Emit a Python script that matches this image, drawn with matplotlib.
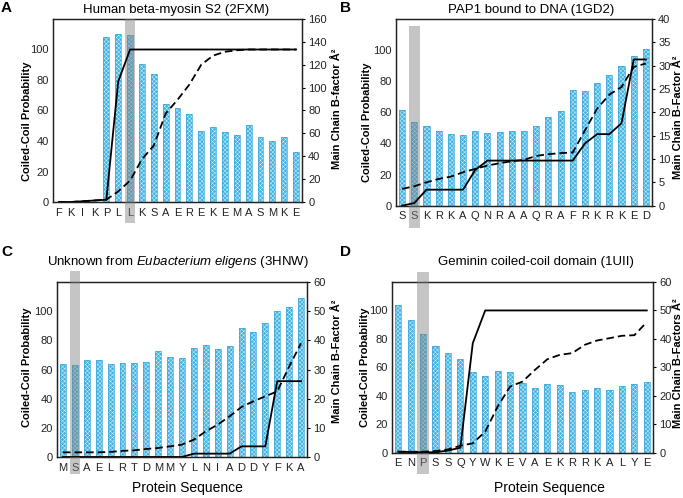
import numpy as np
import matplotlib
matplotlib.use('Agg')
import matplotlib.pyplot as plt
from matplotlib.transforms import blended_transform_factory
from matplotlib.patches import Rectangle

plt.rcParams['font.family'] = ['Liberation Sans', 'DejaVu Sans']
plt.rcParams['mathtext.fontset'] = 'custom'
plt.rcParams['mathtext.rm'] = 'Liberation Sans'
plt.rcParams['mathtext.it'] = 'Liberation Sans:italic'
plt.rcParams['hatch.linewidth'] = 0.35

# panel A - 2FXM
a_res = list("FKIKPLLKSAEREKEMASMKE")
a_bfac = [0, 0, 0, 0, 144, 147, 146, 121, 112, 86, 82, 77, 62, 66, 61, 59, 67, 57, 53, 57, 44]
a_solid = [0, 0, 0.5, 1, 1.5, 79, 100, 100, 100, 100, 100, 100, 100, 100, 100, 100, 100, 100, 100, 100, 100]
a_dashed = [0, 0, 0.5, 1, 1.5, 7, 14, 28, 37, 58, 67, 77, 90, 96, 98.5, 99.5, 100, 100, 100, 100, 100]

# panel B - 1GD2
b_res = list("SSKRKAQNRAAQRAFRKRKED")
b_bfac = [20.4, 17.9, 17.1, 15.9, 15.3, 15.1, 15.9, 15.6, 15.7, 15.9, 16.1, 17, 19, 20.2, 24.7, 24.5, 26.2, 28, 29.9, 32.1, 33.6]
b_solid = [0, 1.7, 10.3, 10.3, 10.3, 10.3, 23, 29, 29, 29, 29, 29, 29, 29, 29, 40, 46, 46, 53, 94, 94]
b_dashed = [10.8, 12.5, 15, 17.2, 18.7, 21.5, 23.7, 25.8, 27.3, 28.6, 29.5, 32, 33.1, 33.8, 34.2, 48.4, 62.4, 71.4, 76.3, 89.2, 91.4]

# panel C - 3HNW
c_res = list("MSAELRTDMMYLNIADDYFKA")
c_bfac = [32, 31.6, 33.4, 33.4, 31.8, 32.3, 32.3, 32.7, 36.5, 34.4, 34, 37.4, 38.4, 37, 38, 44.3, 42.8, 46, 50.2, 51.3, 54.5]
c_solid = [0, 0, 0, 0, 0, 0, 0, 0, 0, 0, 0, 2.3, 2.3, 2.3, 2.3, 7.3, 7.3, 7.3, 52, 52, 52]
c_dashed = [3.2, 3.2, 3.2, 3.2, 3.5, 4.2, 4.6, 5.5, 6.2, 7.3, 8.5, 11.9, 17.6, 22.2, 27.9, 34.3, 38.2, 41.6, 45, 62, 78]

# panel D - 1UII
d_res = list("ENPSSQYWKEVAEKRRKALYE")
d_bfac = [51.8, 46.5, 41.7, 37.5, 35.2, 32.9, 28.4, 27, 28.8, 28.5, 24.4, 22.8, 24, 23.7, 21.4, 21.9, 22.7, 22.2, 23.3, 24.2, 24.7]
d_solid = [0.7, 0.5, 0.3, 0.3, 1.5, 3.5, 77, 100, 100, 100, 100, 100, 100, 100, 100, 100, 100, 100, 100, 100, 100]
d_dashed = [0.7, 0.7, 0.7, 1.2, 2.3, 4.9, 6.6, 14.8, 32.4, 46.5, 50, 58.2, 65.7, 68.8, 70, 75.8, 78.9, 80.5, 82.2, 82.6, 91.8]

W, H = 683, 498
BAR = '#3fb2e3'
EDGE = '#38a6d8'

fig = plt.figure(figsize=(W / 100, H / 100), dpi=100)


def px_rect(l, t, r, b):
    return [l / W, 1 - b / H, (r - l) / W, (b - t) / H]


def panel(box, res, bfac, solid, dashed, rmax, rstep, hl, band):
    ax1 = fig.add_axes(px_rect(*box))
    ax2 = ax1.twinx()
    ax1.set_zorder(ax2.get_zorder() + 1)
    ax1.patch.set_visible(False)
    x = np.arange(len(res))
    ax2.bar(x, bfac, 0.5, color=BAR, edgecolor='#d8f0fa', hatch='xxxxxxxx', linewidth=0)
    ax2.bar(x, bfac, 0.5, fill=False, edgecolor=EDGE, linewidth=0.5)
    ax1.plot(x, solid, color='black', lw=1.3, zorder=5)
    ax1.plot(x, dashed, color='black', lw=1.3, ls='--', dashes=(4.2, 2.2), zorder=5)
    ax1.set_xlim(-0.5, len(res) - 0.5)
    ax1.set_ylim(0, 120)
    ax1.set_yticks(range(0, 101, 20))
    ax2.set_ylim(0, rmax)
    ax2.set_yticks(np.arange(0, rmax + 0.01, rstep))
    ax1.set_xticks(x)
    ax1.set_xticklabels(res)
    ax1.tick_params(axis='y', length=0, pad=3, labelsize=8, labelcolor='#222222')
    ax1.tick_params(axis='x', length=0, pad=4, labelsize=8, labelcolor='#222222')
    ax2.tick_params(axis='y', length=2.5, pad=2, labelsize=8, labelcolor='#222222')
    for ax in (ax1, ax2):
        for s in ax.spines.values():
            s.set_linewidth(0.9)
            s.set_color('#222222')
    trans = blended_transform_factory(ax1.transData, ax1.transAxes)
    ax1.add_patch(Rectangle((hl - 0.45, band[0]), 0.9, band[1] - band[0], transform=trans,
                            facecolor='gray', alpha=0.45, lw=0, clip_on=False, zorder=3))
    return ax1, ax2


panel((53, 19, 302, 202), a_res, a_bfac, a_solid, a_dashed, 160, 20, 6, (-0.113, 1.0))
panel((396, 19, 652, 205.7), b_res, b_bfac, b_solid, b_dashed, 40, 5, 1, (-0.119, 0.9625))
panel((57, 282, 307, 457), c_res, c_bfac, c_solid, c_dashed, 60, 10, 1, (-0.097, 1.063))
panel((392, 282, 653, 452.7), d_res, d_bfac, d_solid, d_dashed, 60, 10, 2, (-0.125, 1.06))


def ftext(x, y, s, **kw):
    fig.text(x / W, 1 - y / H, s, **kw)


# titles
ftext(176, 13, "Human beta-myosin S2 (2FXM)", ha='center', va='baseline', fontsize=9.5)
ftext(531, 13, "PAP1 bound to DNA (1GD2)", ha='center', va='baseline', fontsize=9.5)
ftext(178, 265, "Unknown from $\\it{Eubacterium\\ eligens}$ (3HNW)", ha='center', va='baseline', fontsize=9.5)
ftext(536, 265, "Geminin coiled-coil domain (1UII)", ha='center', va='baseline', fontsize=9.5)

# panel letters
for lx, ly, lt in [(1, 12, 'A'), (340, 12, 'B'), (1, 256, 'C'), (340, 256, 'D')]:
    ftext(lx, ly, lt, ha='left', va='baseline', fontsize=11, fontweight='bold')

# axis labels
lab = dict(rotation=90, ha='center', va='center', fontsize=8, fontweight='bold')
ftext(27, 121, "Coiled-Coil Probability", **lab)
ftext(367, 122, "Coiled-Coil Probability", **lab)
ftext(27, 367, "Coiled-Coil Probability", **lab)
ftext(365, 367, "Coiled-Coil Probability", **lab)
ftext(337, 109, "Main Chain B-factor Å²", **lab)
ftext(678, 117, "Main Chain B-Factor Å²", **lab)
ftext(337, 361, "Main Chain B-Factor Å²", **lab)
ftext(678, 363, "Main Chain B-Factors Å²", **lab)

ftext(187, 492, "Protein Sequence", ha='center', va='baseline', fontsize=10)
ftext(549, 492, "Protein Sequence", ha='center', va='baseline', fontsize=10)

fig.savefig('out.png', dpi=100)
